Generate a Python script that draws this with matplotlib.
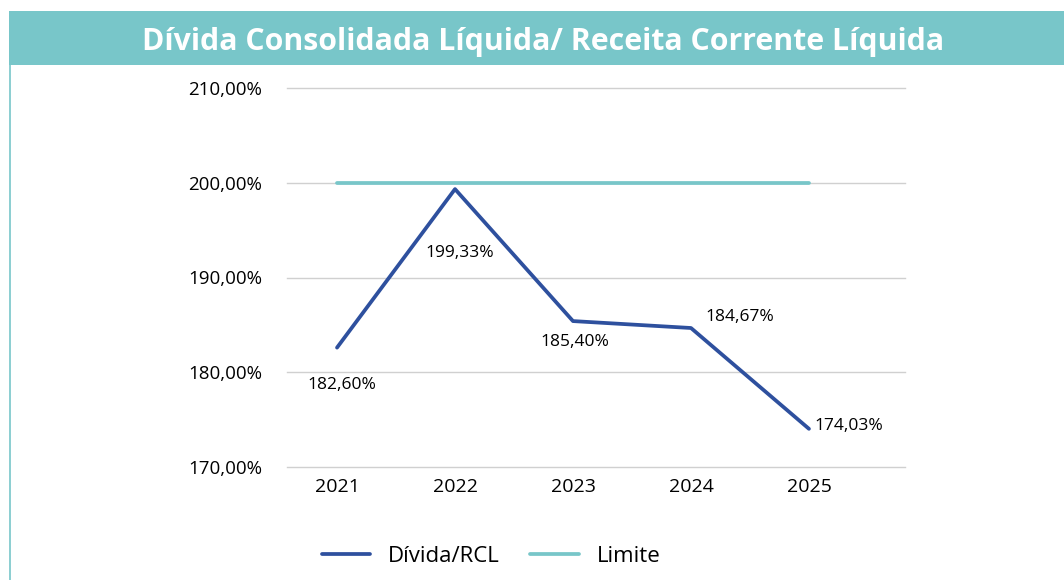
import matplotlib
matplotlib.use('Agg')
import matplotlib.pyplot as plt
from matplotlib.patches import Rectangle
from matplotlib.lines import Line2D

anos = ['2021', '2022', '2023', '2024', '2025']
divida_rcl = [182.60, 199.33, 185.40, 184.67, 174.03]
limite = [200.0, 200.0, 200.0, 200.0, 200.0]
rotulos = ['182,60%', '199,33%', '185,40%', '184,67%', '174,03%']
yticks = [170, 180, 190, 200, 210]

azul = '#2E509E'
teal = '#78C6C9'

plt.rcParams['font.family'] = ['Open Sans', 'DejaVu Sans']

fig = plt.figure(figsize=(10.64, 5.8), dpi=100)
fig.patch.set_facecolor('white')

# faixa do titulo + borda esquerda
fig.patches.append(Rectangle((9/1064, 1-65/580), 1, 54/580, transform=fig.transFigure,
                             facecolor=teal, edgecolor='none'))
fig.lines.append(Line2D([10/1064, 10/1064], [0, 1-65/580], transform=fig.transFigure,
                        color=teal, lw=1.2))
fig.text(543/1064, 1-42/580, 'Dívida Consolidada Líquida/ Receita Corrente Líquida',
         ha='center', va='center', color='white', fontsize=21.8, fontweight='bold')

ax = fig.add_axes([287/1064, 1-467/580, 618/1064, 379/580])
x = list(range(len(anos)))
ax.plot(x, divida_rcl, color=azul, lw=2.7, solid_capstyle='round', label='Dívida/RCL', zorder=3)
ax.plot(x, limite, color=teal, lw=2.7, solid_capstyle='round', label='Limite', zorder=2)

ax.set_xlim(-0.424, 4.814)
ax.set_ylim(170, 210)
ax.set_yticks(yticks)
ax.set_yticklabels([f'{v},00%' for v in yticks], fontsize=13.5)
ax.set_xticks(x)
ax.set_xticklabels(anos, fontsize=14)
ax.tick_params(axis='y', length=0, pad=18)
ax.tick_params(axis='x', length=0, pad=8)
ax.grid(axis='y', color='#D0D0D0', lw=1)
for g in ax.get_ygridlines():
    g.set_clip_on(False)
for s in ax.spines.values():
    s.set_visible(False)
ax.set_axisbelow(True)

offsets = [(3.6, -27), (3.6, -46), (1.5, -15), (35, 8), (29, 2)]
for xi, yi, r, (dx, dy) in zip(x, divida_rcl, rotulos, offsets):
    ax.annotate(r, (xi, yi), xytext=(dx, dy), textcoords='offset points',
                ha='center', va='center', fontsize=12.5)

ax.legend(loc='center', bbox_to_anchor=(0.33, -0.235), ncol=2, frameon=False,
          fontsize=16, handlelength=2.2, handletextpad=0.8, columnspacing=1.35)

fig.savefig('out.png', dpi=100)
